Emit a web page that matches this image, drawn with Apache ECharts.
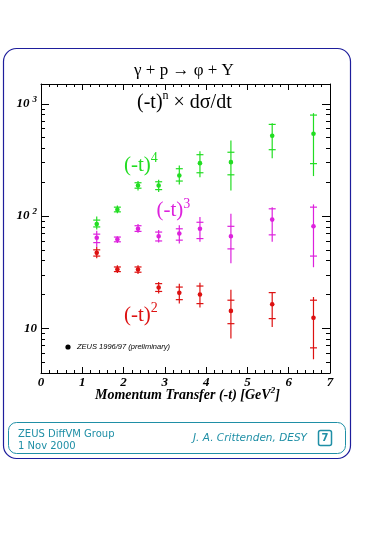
<!DOCTYPE html>
<html>
<head>
<meta charset="utf-8">
<script src="https://cdn.jsdelivr.net/npm/echarts@6/dist/echarts.min.js"></script>
<style>
html,body{margin:0;padding:0;background:#fff;}
#chart{width:365px;height:535px;}
</style>
</head>
<body>
<div id="chart"></div>
<script>
// ---- data ----
const tValues = [1.35, 1.85, 2.35, 2.85, 3.35, 3.85, 4.6, 5.6, 6.6];

const greenY      = [85, 114, 187, 187, 230, 296, 302, 519, 541];
const greenTotHi  = [99, 124, 205, 211, 282, 378, 471, 671, 825];
const greenTotLo  = [76, 106, 169, 164, 191, 222, 169, 328, 227];
const greenStatHi = [92, 120, 198, 202, 264, 352, 370, 655, 793];
const greenStatLo = [80, 109, 177, 172, 205, 243, 233, 390, 293];

const magentaY      = [64, 62, 77, 66, 70, 77, 66, 93, 81];
const magentaTotHi  = [74, 66, 85, 75, 83, 98, 105, 120, 127];
const magentaTotLo  = [53, 57.5, 71, 58, 57, 59, 38, 59, 35];
const magentaStatHi = [69, 65, 82, 72, 77, 88, 81, 116, 120];
const magentaStatLo = [58, 59, 73, 60, 61, 63, 51, 68, 44];

const redY      = [47, 33.6, 33.4, 23.1, 20.7, 20, 14.3, 16.4, 12.4];
const redTotHi  = [53, 36.4, 36.4, 25.9, 25, 25.4, 22.1, 21.1, 19];
const redTotLo  = [42, 31.1, 30.5, 20.4, 16.6, 15.3, 8.1, 10.3, 5.3];
const redStatHi = [50, 35.2, 35.2, 25, 23.3, 23.8, 17.8, 20.8, 17.8];
const redStatLo = [44, 32, 31.6, 21.3, 18, 16.6, 11, 12.2, 6.7];

const xTickLabels = [0, 1, 2, 3, 4, 5, 6, 7];
const yMajorTicks = [10, 100, 1000];
const yMinorTicks = [5, 6, 7, 8, 9, 20, 30, 40, 50, 60, 70, 80, 90, 200, 300, 400, 500, 600, 700, 800, 900];
const yTickLabels = { 10: '{b|10}', 100: '{b|10}{s|2}', 1000: '{b|10}{s|3}' };

const GREEN = '#22dd22', MAGENTA = '#dd22dd', RED = '#dd1111';
const TEAL = '#1f8fa6', NAVY = '#1e1e9c';

function rows(y, th, tl, sh, sl) {
  return tValues.map((t, i) => [t, y[i], tl[i], th[i], sl[i], sh[i]]);
}

function errRender(color) {
  return function (params, api) {
    const x = api.value(0);
    const p = api.coord([x, api.value(1)]);
    const pTL = api.coord([x, api.value(2)]);
    const pTH = api.coord([x, api.value(3)]);
    const pSL = api.coord([x, api.value(4)]);
    const pSH = api.coord([x, api.value(5)]);
    const w = 3.5;
    const st = { stroke: color, lineWidth: 1.2 };
    return {
      type: 'group',
      children: [
        { type: 'line', shape: { x1: p[0], y1: pTL[1], x2: p[0], y2: pTH[1] }, style: st },
        { type: 'line', shape: { x1: p[0] - w, y1: pSL[1], x2: p[0] + w, y2: pSL[1] }, style: st },
        { type: 'line', shape: { x1: p[0] - w, y1: pSH[1], x2: p[0] + w, y2: pSH[1] }, style: st },
        { type: 'circle', shape: { cx: p[0], cy: p[1], r: 2.3 }, style: { fill: color } }
      ]
    };
  };
}

const serifBI = { fontFamily: 'Liberation Serif', fontStyle: 'italic', fontWeight: 'bold', color: '#000' };

function yAxisDef(pos, major) {
  return {
    type: 'log', logBase: 10, min: 4, max: 1500, position: pos,
    axisLine: { show: major, lineStyle: { color: '#000', width: 1 } },
    axisTick: { show: true, inside: true, length: major ? 8 : 4, customValues: major ? yMajorTicks : yMinorTicks, lineStyle: { color: '#000', width: 1 } },
    axisLabel: (major && pos === 'left') ? {
      show: true, customValues: yMajorTicks, margin: 4,
      formatter: v => yTickLabels[Math.round(v)] || '',
      rich: {
        b: Object.assign({ fontSize: 13 }, serifBI),
        s: Object.assign({ fontSize: 9, padding: [0, 0, 9, 3] }, serifBI)
      }
    } : { show: false },
    splitLine: { show: false },
    minorTick: { show: false }
  };
}

function xAxisDef(pos) {
  return {
    type: 'value', min: 0, max: 7, interval: 1, position: pos,
    axisLine: { show: true, lineStyle: { color: '#000', width: 1 } },
    axisTick: { show: true, inside: true, length: 6, lineStyle: { color: '#000' } },
    minorTick: { show: true, splitNumber: 5, length: 3, lineStyle: { color: '#000' } },
    splitLine: { show: false },
    axisLabel: pos === 'bottom' ? Object.assign({ show: true, fontSize: 13, margin: 3,
      formatter: v => (xTickLabels.indexOf(v) >= 0 ? String(v) : '') }, serifBI) : { show: false }
  };
}

// text with superscripts: parts = [[text, font, dy], ...] placed on one baseline
const measCtx = document.createElement('canvas').getContext('2d');
function textRun(x, baseline, color, parts) {
  const out = [];
  let cx = x;
  parts.forEach(([txt, font, dy]) => {
    const fs = parseFloat(font.match(/([\d.]+)px/)[1]);
    out.push({ type: 'text', style: { text: txt, x: cx, y: baseline - dy - 0.34 * fs, font: font, fill: color, verticalAlign: 'middle' } });
    measCtx.font = font;
    cx += measCtx.measureText(txt).width;
  });
  return out;
}

const chart = echarts.init(document.getElementById('chart'), null, { renderer: 'canvas' });

const big = '20px "Liberation Serif"';
const lab = '21px "Liberation Serif"';
const sup = '14px "Liberation Serif"';

const graphics = [
  { type: 'rect', z: -1, shape: { x: 3.5, y: 48.5, width: 347, height: 410, r: 13 }, style: { fill: 'none', stroke: NAVY, lineWidth: 1.2 } },
  { type: 'rect', shape: { x: 8.5, y: 422.5, width: 337, height: 31, r: 8 }, style: { fill: 'none', stroke: TEAL, lineWidth: 1 } },
  { type: 'text', style: { text: 'γ + p → φ + Y', x: 184, y: 71, align: 'center', verticalAlign: 'middle', font: '17px "Liberation Serif"', fill: '#000' } },
  { type: 'circle', shape: { cx: 68, cy: 347, r: 2.6 }, style: { fill: '#000' } },
  { type: 'text', style: { text: 'ZEUS 1996/97 (preliminary)', x: 77, y: 347, verticalAlign: 'middle', font: 'italic 7.5px "Liberation Sans"', fill: '#000' } },
  { type: 'text', style: { text: 'ZEUS DiffVM Group', x: 18, y: 434.5, verticalAlign: 'middle', font: '10px "DejaVu Sans"', fill: TEAL } },
  { type: 'text', style: { text: '1 Nov 2000', x: 18, y: 446.5, verticalAlign: 'middle', font: '10px "DejaVu Sans"', fill: TEAL } },
  { type: 'text', style: { text: 'J. A. Crittenden, DESY', x: 193, y: 438, verticalAlign: 'middle', font: 'italic 10.5px "DejaVu Sans"', fill: TEAL } },
  { type: 'rect', shape: { x: 318.5, y: 430.5, width: 13, height: 15, r: 2 }, style: { fill: 'none', stroke: TEAL, lineWidth: 1.5 } },
  { type: 'text', style: { text: '7', x: 325, y: 438.5, align: 'center', verticalAlign: 'middle', font: 'bold 10px "DejaVu Sans"', fill: TEAL } }
].concat(
  textRun(137, 110, '#000', [['(-t)', big, 0], ['n', '12px "Liberation Serif"', 10], [' × dσ/dt', big, 0]]),
  textRun(124, 172.5, GREEN, [['(-t)', lab, 0], ['4', sup, 9]]),
  textRun(156.5, 218, MAGENTA, [['(-t)', lab, 0], ['3', sup, 9]]),
  textRun(124, 323, RED, [['(-t)', lab, 0], ['2', sup, 10]]),
  textRun(95, 400, '#000', [['Momentum Transfer (-t) [GeV', 'italic bold 14px "Liberation Serif"', 0], ['2', 'italic bold 9px "Liberation Serif"', 6], [']', 'italic bold 14px "Liberation Serif"', 0]])
);

chart.setOption({
  backgroundColor: '#fff',
  animation: false,
  grid: { left: 41, top: 84, width: 289, height: 289, containLabel: false },
  xAxis: [xAxisDef('bottom'), xAxisDef('top')],
  yAxis: [yAxisDef('left', true), yAxisDef('left', false), yAxisDef('right', true), yAxisDef('right', false)],
  series: [
    { type: 'custom', name: '(-t)^4', xAxisIndex: 0, yAxisIndex: 0, renderItem: errRender(GREEN),
      data: rows(greenY, greenTotHi, greenTotLo, greenStatHi, greenStatLo), encode: { x: 0, y: [1, 2, 3] }, clip: false },
    { type: 'custom', name: '(-t)^3', xAxisIndex: 0, yAxisIndex: 0, renderItem: errRender(MAGENTA),
      data: rows(magentaY, magentaTotHi, magentaTotLo, magentaStatHi, magentaStatLo), encode: { x: 0, y: [1, 2, 3] }, clip: false },
    { type: 'custom', name: '(-t)^2', xAxisIndex: 0, yAxisIndex: 0, renderItem: errRender(RED),
      data: rows(redY, redTotHi, redTotLo, redStatHi, redStatLo), encode: { x: 0, y: [1, 2, 3] }, clip: false }
  ],
  graphic: graphics
});
</script>
</body>
</html>
